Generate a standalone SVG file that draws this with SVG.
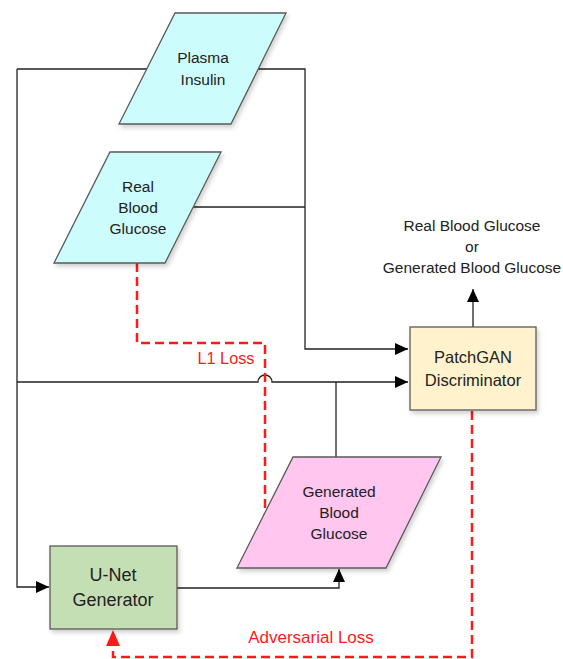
<svg xmlns="http://www.w3.org/2000/svg" width="563" height="659" viewBox="0 0 563 659">
<style>
  .t { font-family: "Liberation Sans", Arial, sans-serif; fill: #222; text-anchor: middle; }
  .n { stroke: #5a5a5a; stroke-width: 1.3; }
  .c { fill: none; stroke: #222; stroke-width: 1.3; }
  .r { fill: none; stroke: #ff1a1a; stroke-width: 2.5; stroke-dasharray: 9 5; }
  .rt { font-family: "Liberation Sans", Arial, sans-serif; fill: #ff1a1a; text-anchor: middle; }
</style>
<defs>
  <marker id="ab" markerUnits="userSpaceOnUse" markerWidth="14" markerHeight="12" viewBox="0 0 14 12" refX="13" refY="6" orient="auto">
    <path d="M0,0 L13,6 L0,12 Z" fill="#000"/>
  </marker>
  <marker id="ar" markerUnits="userSpaceOnUse" markerWidth="14" markerHeight="12" viewBox="0 0 14 12" refX="13" refY="6" orient="auto">
    <path d="M0,0 L13,6 L0,12 Z" fill="#ff1a1a"/>
  </marker>
  <filter id="sh" x="-20%" y="-20%" width="140%" height="140%">
    <feDropShadow dx="2" dy="3" stdDeviation="2" flood-color="#000" flood-opacity="0.18"/>
  </filter>
</defs>
<rect width="563" height="659" fill="#fff"/>
<g id="connectors">
  <path class="c" d="M17,69 H305 V349 H408" marker-end="url(#ab)"/>
  <path class="c" d="M193,207 H305"/>
  <path class="c" d="M17,69 V587 H49" marker-end="url(#ab)"/>
  <path class="c" d="M17,382 H258 A7,7 0 0 1 272,382 H408" marker-end="url(#ab)"/>
  <path class="c" d="M336,382 V457"/>
  <path class="c" d="M177,588 H339 V569" marker-end="url(#ab)"/>
  <path class="c" d="M473,327 V289" marker-end="url(#ab)"/>
  <path class="r" d="M137,263 V343 H265 V522"/>
  <path class="r" d="M472,411 V657 H113 V646"/>
  <path d="M113,630 L120,646 L106,646 Z" fill="#ff1a1a"/>
</g>
<g id="plasma-insulin">
  <polygon class="n" points="175,13 286,13 231,124 119,124" fill="#ccfcfc" filter="url(#sh)"/>
  <text class="t" font-size="15.5" x="203" y="63">Plasma</text>
  <text class="t" font-size="15.5" x="203" y="85">Insulin</text>
</g>
<g id="real-blood-glucose">
  <polygon class="n" points="110,152 221,152 165,263 54,263" fill="#ccfcfc" filter="url(#sh)"/>
  <text class="t" font-size="15.5" x="138" y="192">Real</text>
  <text class="t" font-size="15.5" x="138" y="213">Blood</text>
  <text class="t" font-size="15.5" x="138" y="234">Glucose</text>
</g>
<g id="output-label">
  <text class="t" font-size="15.5" x="472" y="231">Real Blood Glucose</text>
  <text class="t" font-size="15.5" x="472" y="252">or</text>
  <text class="t" font-size="15.5" x="472" y="273">Generated Blood Glucose</text>
</g>
<g id="patchgan-discriminator">
  <rect class="n" x="410" y="327" width="126" height="83" fill="#fff2cc" filter="url(#sh)"/>
  <text class="t" font-size="16.5" x="473" y="363">PatchGAN</text>
  <text class="t" font-size="16.5" x="473" y="386">Discriminator</text>
</g>
<g id="generated-blood-glucose">
  <polygon class="n" points="293,457 441,457 386,568 237,568" fill="#ffc6f0" filter="url(#sh)"/>
  <text class="t" font-size="15.5" x="339" y="497">Generated</text>
  <text class="t" font-size="15.5" x="339" y="518">Blood</text>
  <text class="t" font-size="15.5" x="339" y="539">Glucose</text>
</g>
<g id="unet-generator">
  <rect class="n" x="50" y="546" width="127" height="83" fill="#c5dfb4" filter="url(#sh)"/>
  <text class="t" font-size="18" x="113" y="581">U-Net</text>
  <text class="t" font-size="18" x="113" y="606">Generator</text>
</g>
<g id="loss-labels">
  <text class="rt" font-size="16.3" x="226" y="364">L1 Loss</text>
  <text class="rt" font-size="17" x="311" y="643">Adversarial Loss</text>
</g>
</svg>
